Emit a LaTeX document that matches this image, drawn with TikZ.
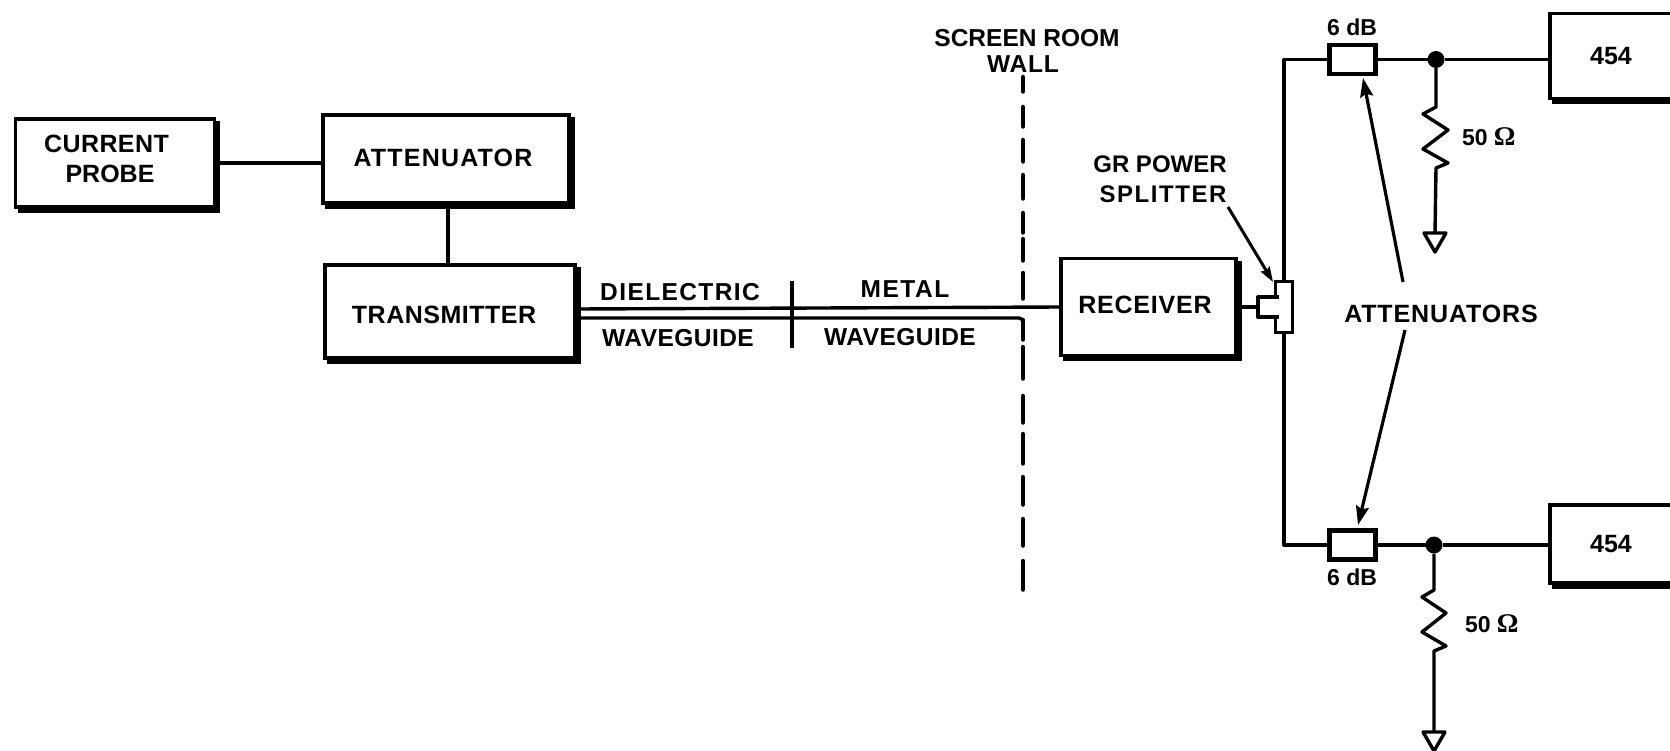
\documentclass[tikz,border=0pt]{standalone}
\usepackage{fontspec}
\setmainfont{Liberation Sans}[BoldFont={Liberation Sans Bold}]
\newfontfamily\omegafont{Liberation Serif}[BoldFont={Liberation Serif Bold}]
\usetikzlibrary{shadows,arrows.meta}
\newcommand{\padtext}[4]{#1\hspace*{#2}\rule[-#3]{0pt}{#4}}
\newcommand{\spaced}[2]{{\addfontfeature{LetterSpace=#1}#2}}
\tikzset{
  x=1pt,y=-1pt,
  blockbox/.style={draw=black,line width=3.8pt,fill=white,inner sep=0pt,outer sep=0pt,align=center,
    font=\fontsize{25}{30}\selectfont\bfseries,
    copy shadow={shadow xshift=4pt,shadow yshift=-4pt,draw=black,fill=black}},
  wire/.style={line width=3.4pt,line join=round},
  textlabel/.style={font=\fontsize{24.5}{26}\selectfont\bfseries,inner sep=0pt,align=center},
  smalllabel/.style={font=\fontsize{23}{25}\selectfont\bfseries,inner sep=0pt,outer sep=0pt},
  attbox/.style={draw=black,line width=4.4pt,fill=white,minimum width=46pt,minimum height=29pt,inner sep=0pt,outer sep=0pt},
  pointer/.style={line width=3.2pt,-{Stealth[length=19pt,width=13pt,inset=3pt]}},
  walldash/.style={line width=4.5pt,line cap=round,dash pattern=on 14.5pt off 15.5pt on 19.5pt off 13.5pt on 21.5pt off 13.5pt on 23.5pt off 14.5pt on 19.5pt off 6.5pt on 21.5pt off 12.5pt on 25.5pt off 21.5pt on 19.5pt off 7.5pt on 31.5pt off 17.5pt on 26.5pt off 11.5pt on 29.5pt off 13.5pt on 27.5pt off 14.5pt on 26.5pt off 15.5pt on 28.5pt off 100pt},
  junction/.style={circle,fill=black,minimum size=17pt,inner sep=0pt,outer sep=0pt},
  groundtri/.style={line width=3.4pt,line join=round,fill=white},
}
\begin{document}
\begin{tikzpicture}
\useasboundingbox (0,0) rectangle (1670,751);
\clip (0,0) rectangle (1670,751);
% blocks
\node[blockbox,minimum width=199pt,minimum height=88pt] (probe) at (115,163)
  {\spaced{1.7}{CURRENT}\hspace*{17pt}\\PROBE\hspace*{10pt}\rule[-8pt]{0pt}{0pt}};
\node[blockbox,minimum width=246pt,minimum height=88pt] (att) at (446,159) {\padtext{\spaced{4.8}{ATTENUATOR}}{6pt}{2pt}{0pt}};
\node[blockbox,minimum width=250pt,minimum height=93pt] (tx) at (450,311.5) {\padtext{\spaced{2}{TRANSMITTER}}{12pt}{0pt}{25pt}};
\node[blockbox,minimum width=175pt,minimum height=97pt] (rx) at (1148.5,307) {\padtext{\spaced{3.2}{RECEIVER}}{7pt}{4pt}{0pt}};
\node[blockbox,minimum width=122pt,minimum height=85pt] (topbox) at (1611,56) {454};
\node[blockbox,minimum width=122pt,minimum height=78pt] (botbox) at (1611,544) {454};
\draw[wire] (probe.east) -- (att.west|-probe.east);
\coordinate (attdrop) at (448,206);
\draw[wire] (attdrop) -- (attdrop|-tx.north);
% screen room wall
\coordinate (walltop) at (1023,77);
\coordinate (wallbot) at (1023,591);
\draw[walldash] (walltop) -- (wallbot);
\node[textlabel] (wall) at (1027,51) {SCREEN ROOM\\[0pt]\hspace*{-8pt}\spaced{3}{WALL}};
% waveguide
\coordinate (wgA) at (577,309);
\coordinate (wgB) at (578,318);
\coordinate (wgturn) at (1023,318);
\coordinate (wgend) at (1023,340);
\coordinate (wgrx) at (1061,307);
\draw[wire] (wgA) -- (wgrx);
\draw[wire,rounded corners=4pt] (wgB) -- (wgturn) -- (wgend);
\coordinate (divtop) at (792,281);
\coordinate (divbot) at (792,348);
\draw[wire] (divtop) -- (divbot);
\node[textlabel] (dielectric) at (680,292) {\spaced{5.7}{DIELECTRIC}};
\node[textlabel] (metal) at (905,289) {\spaced{6.5}{METAL}};
\node[textlabel] (wgleft) at (678,338) {\spaced{1.9}{WAVEGUIDE}};
\node[textlabel] (wgright) at (900,337) {\spaced{1.9}{WAVEGUIDE}};
% splitter
\node[draw=black,line width=3.4pt,fill=white,minimum width=17pt,minimum height=51pt,inner sep=0pt,outer sep=0pt] (split) at (1284,307) {};
\node[fill=white,minimum width=21pt,minimum height=20pt,inner sep=0pt,outer sep=0pt] (stub) at (1268.5,307) {};
\draw[wire] (stub.north east) -- (stub.north west) -- (stub.south west) -- (stub.south east);
\draw[wire] (rx.east) -- (stub.west);
\node[textlabel,font=\fontsize{24}{30}\selectfont\bfseries] (grlabel) at (1160,179) {GR POWER\\\hspace*{6pt}\spaced{6.5}{SPLITTER}};
\coordinate (grtail) at (1228,207);
\coordinate (grtip) at (1273,282);
\draw[line width=3pt,-{Stealth[length=15pt,width=10pt,inset=2pt]}] (grtail) -- (grtip);
% attenuators
\node[attbox] (attone) at (1352.5,59.5) {};
\node[attbox] (atttwo) at (1352.5,545) {};
\node[smalllabel] (dbone) at (1352,27) {6 dB};
\node[smalllabel] (dbtwo) at (1352,577) {6 dB};
\draw[wire] (split.north) |- (attone.west);
\draw[wire] (split.south) |- (atttwo.west);
% junctions, resistors, grounds
\node[junction] (jone) at (1436,59.5) {};
\node[junction] (jtwo) at (1434,545) {};
\draw[wire] (attone.east) -- (jone) -- (topbox.west|-jone);
\draw[wire] (atttwo.east) -- (jtwo) -- (botbox.west|-jtwo);
\coordinate (gndone) at (1435,233);
\coordinate (gndtwo) at (1434,732);
\draw[wire] (jone.south) -- (1436,107) -- (1423,114) -- (1448,130) -- (1423,149) -- (1448,163) -- (1436,168) -- (gndone);
\draw[wire] (jtwo.south) -- (1434,590) -- (1422,597) -- (1446,613) -- (1422,632) -- (1446,646) -- (1434,651) -- (gndtwo);
\draw[groundtri] (gndone) +(-11,0) -- +(11,0) -- +(0,19) -- cycle;
\draw[groundtri] (gndtwo) +(-11,0) -- +(11,0) -- +(0,19) -- cycle;
\node[smalllabel,anchor=west] (ohmone) at (1462,137) {50 {\omegafont\fontsize{27}{27}\selectfont\bfseries Ω}};
\node[smalllabel,anchor=west] (ohmtwo) at (1465,624) {50 {\omegafont\fontsize{27}{27}\selectfont\bfseries Ω}};
% attenuators label and pointers
\node[textlabel,font=\fontsize{25}{30}\selectfont\bfseries] (attlabel) at (1441,314) {\spaced{3.5}{ATTENUATORS}};
\coordinate (ptrup) at (1403,282);
\coordinate (ptrdown) at (1405,330);
\draw[pointer] (ptrup) -- (1363,78);
\draw[pointer] (ptrdown) -- (1358,525);
\end{tikzpicture}
\end{document}
